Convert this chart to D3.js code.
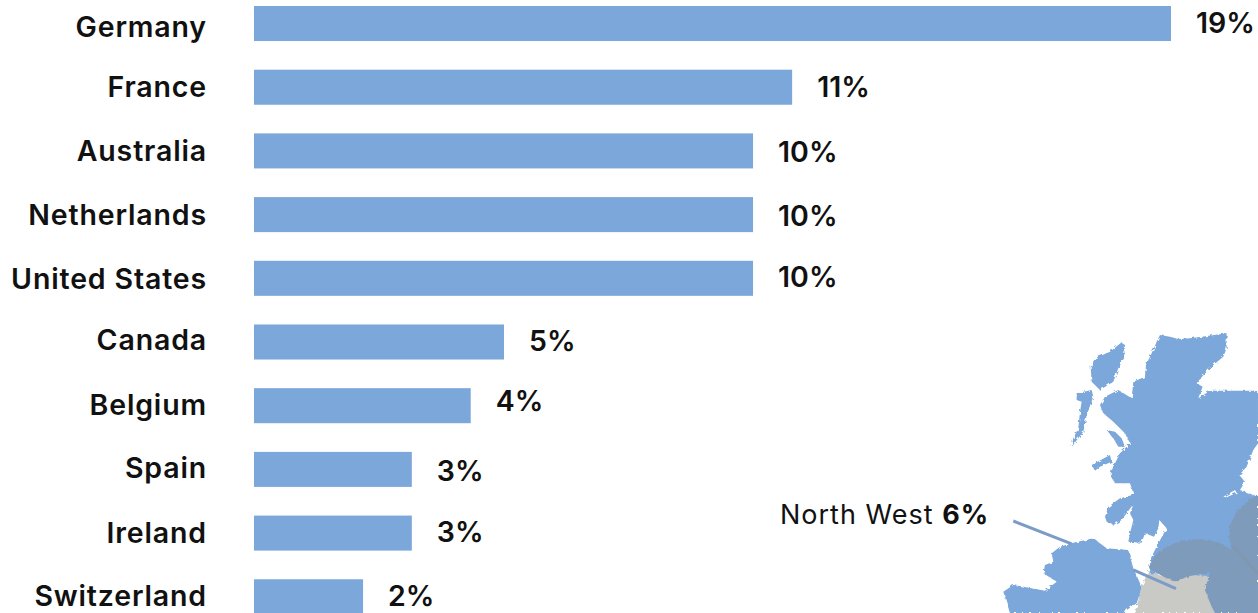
<!DOCTYPE html>
<html>
<head>
<meta charset="utf-8">
<script src="https://cdnjs.cloudflare.com/ajax/libs/d3/7.8.5/d3.min.js"></script>
<style>
html,body{margin:0;padding:0;background:#fff;overflow:hidden}
text{font-family:Inter,"Noto Sans",sans-serif;fill:#111}
</style>
</head>
<body>
<svg id="chart" width="1258" height="613"></svg>
<script>
const countries = ["Germany","France","Australia","Netherlands","United States","Canada","Belgium","Spain","Ireland","Switzerland"];
const shares = [19, 11.15, 10.34, 10.34, 10.34, 5.18, 4.49, 3.27, 3.27, 2.26];
const regionName = "North West";
const regionShare = 6;

// Hand-set baseline corrections for the row labels
const nameNudge = [3, 0, 0, 0, 1, -2, -1, -1, 0, -1];
const valueNudge = [-1, 0, 1, 1, -1, -1, -5, 2, -1, -1];

const svg = d3.select("#chart");
const x = d3.scaleLinear().domain([0, 19]).range([254, 1171]);
const y = d3.scaleBand().domain(countries).range([6, 614.3]).paddingInner(0.45).paddingOuter(0);
const pct = v => Math.round(v) + "%";

// Rough coastline edge for the regional map
const defs = svg.append("defs");
const rough = defs.append("filter").attr("id", "coast").attr("x", "-5%").attr("y", "-5%").attr("width", "110%").attr("height", "110%");
rough.append("feTurbulence").attr("type", "fractalNoise").attr("baseFrequency", 0.09).attr("numOctaves", 2).attr("seed", 4).attr("result", "n");
rough.append("feDisplacementMap").attr("in", "SourceGraphic").attr("in2", "n").attr("scale", 12);

const blue = "#7ca7da";
const overlay = "#7f9bbb";
const land = [
 "M630 45L660 50L685 57L720 55L755 50L830 40L830 85L820 110L790 135L765 160L740 190L758 200L745 235L780 212L924 212L924 370L910 390L890 440L868 465L885 485L870 510L885 515L924 530L924 775L600 760L600 720L625 670L650 625L628 600L625 625L612 650L585 640L575 668L535 665L540 640L550 600L540 580L548 560L540 545L550 520L540 490L495 490L480 465L490 440L510 400L540 370L525 340L490 305L460 280L450 255L465 230L505 210L545 235L550 185L585 170L588 135L600 110L612 85L620 65Z",
 "M515 67L525 75L522 115L505 145L490 185L450 210L425 185L422 140L435 115L480 95Z",
 "M380 220L425 210L430 230L410 285L400 335L365 380L370 355L385 325L390 275L395 245L380 240Z",
 "M470 330L495 335L515 355L525 380L505 380L490 355Z",
 "M425 435L480 405L485 425L450 440L435 452Z",
 "M465 590L475 560L510 535L548 525L548 555L515 600L490 615L470 605Z",
 "M370 668L430 655L470 685L535 690L550 745L575 800L570 820L560 850L530 870L525 879L180 879L160 815L190 795L285 812L320 785L280 760L285 735L310 725L305 700L330 680Z"
];
const map = svg.append("g").attr("transform", "translate(950,320) scale(0.3333)");
const coast = map.append("g").attr("filter", "url(#coast)");
coast.append("path").attr("d", "M595 752L640 770L800 740L924 760L924 879L555 879L575 800Z").attr("fill", "#c9c9c5");
coast.selectAll("path.land").data(land).join("path").attr("class", "land").attr("d", d => d).attr("fill", blue);
coast.append("path").attr("d", "M820 530L855 510L860 518L830 532Z").attr("fill", "#fff");
coast.append("path")
  .attr("d", "M597 745C610 690 680 655 750 657C790 660 820 670 845 690C825 630 845 565 924 525L924 879L795 879L785 860L765 810L780 755L710 770L680 785L640 770Z")
  .attr("fill", overlay);
map.append("path").attr("d", "M850 680L924 760").attr("stroke", "#86929f").attr("stroke-width", 8).attr("fill", "none").attr("opacity", 0.5);
map.append("line").attr("x1", 190).attr("y1", 603).attr("x2", 365).attr("y2", 672).attr("stroke", "#7b9cc6").attr("stroke-width", 9);
map.append("line").attr("x1", 550).attr("y1", 750).attr("x2", 678).attr("y2", 806).attr("stroke", "#7b9cc6").attr("stroke-width", 9);

svg.selectAll("rect.bar").data(countries).join("rect")
  .attr("class", "bar")
  .attr("x", x(0))
  .attr("y", d => y(d))
  .attr("width", (d, i) => x(shares[i]) - x(0))
  .attr("height", y.bandwidth())
  .attr("fill", blue);

svg.selectAll("text.name").data(countries).join("text")
  .attr("class", "name")
  .attr("x", 207)
  .attr("y", (d, i) => y(d) + y.bandwidth() / 2 + 10 + nameNudge[i])
  .attr("text-anchor", "end")
  .attr("font-size", 28.5)
  .attr("font-weight", 600)
  .attr("letter-spacing", 0.85)
  .text(d => d);

svg.selectAll("text.value").data(countries).join("text")
  .attr("class", "value")
  .attr("x", (d, i) => x(shares[i]) + 25)
  .attr("y", (d, i) => y(d) + y.bandwidth() / 2 + 10 + valueNudge[i])
  .attr("font-size", 28.5)
  .attr("font-weight", 600)
  .text((d, i) => pct(shares[i]));

const note = svg.append("text").attr("x", 780).attr("y", 524).attr("font-size", 27).attr("letter-spacing", 1);
note.append("tspan").text(regionName + " ");
note.append("tspan").attr("font-weight", 700).text(regionShare + "%");
</script>
</body>
</html>
